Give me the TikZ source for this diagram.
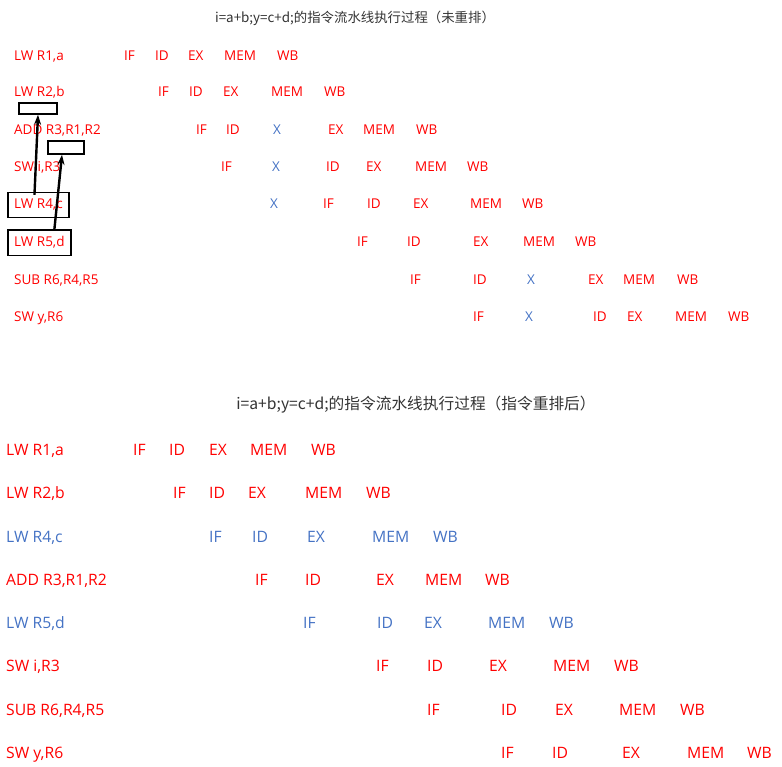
\documentclass[tikz,border=0pt]{standalone}
\usepackage{fontspec}
\setmainfont{Open Sans}
\newfontfamily\cjk{Noto Sans CJK SC}
\usetikzlibrary{arrows.meta,positioning,fit}
\definecolor{StageRed}{HTML}{FF0000}
\definecolor{StallBlue}{HTML}{4472C4}
\definecolor{TitleInk}{HTML}{333333}
\tikzset{
  toptext/.style={anchor=base west,inner sep=0pt,font=\fontsize{13.5}{16}\selectfont},
  bottext/.style={anchor=base west,inner sep=0pt,font=\fontsize{15.7}{18}\selectfont},
  titletext/.style={text=TitleInk,inner sep=0pt},
  holebox/.style={draw=black,line width=1.5pt,inner sep=0pt},
  markbox/.style={draw=black,line width=1.5pt,inner xsep=6pt,inner ysep=6.5pt},
  hazard/.style={-{Stealth[length=10pt,width=7pt]},draw=black,line width=2.4pt}
}
\begin{document}
\begin{tikzpicture}[x=1pt,y=-1pt]
  \path[use as bounding box] (0,0) rectangle (782,767);
  % before reordering
  \node[titletext,font=\cjk\fontsize{13.4}{16}\selectfont] (ttitle) at (355,18) {i=a+b;y=c+d;的指令流水线执行过程（未重排）};
  \node[toptext,text=StageRed] (tlw1) at (14,61) {LW R1,a};
  \node[toptext,text=StageRed] (tlw2) at (14,97) {LW R2,b};
  \node[toptext,text=StageRed] (tadd) at (14,135) {ADD R3,R1,R2};
  \node[toptext,text=StageRed] (tswi) at (14,172) {SW i,R3};
  \node[toptext,text=StageRed] (tlw4) at (14,209) {LW R4,c};
  \node[toptext,text=StageRed] (tlw5) at (14,247) {LW R5,d};
  \node[toptext,text=StageRed] (tsub) at (14,285) {SUB R6,R4,R5};
  \node[toptext,text=StageRed] (tswy) at (14,322) {SW y,R6};
  \foreach \x/\s/\col [count=\k] in {124/IF/StageRed,155/ID/StageRed,188/EX/StageRed,224/MEM/StageRed,277/WB/StageRed}
    \node[toptext,text=\col] (t1s\k) at (\x,61) {\s};
  \foreach \x/\s/\col [count=\k] in {158/IF/StageRed,189/ID/StageRed,223/EX/StageRed,271/MEM/StageRed,324/WB/StageRed}
    \node[toptext,text=\col] (t2s\k) at (\x,97) {\s};
  \foreach \x/\s/\col [count=\k] in {196/IF/StageRed,226/ID/StageRed,273/X/StallBlue,328/EX/StageRed,363/MEM/StageRed,416/WB/StageRed}
    \node[toptext,text=\col] (t3s\k) at (\x,135) {\s};
  \foreach \x/\s/\col [count=\k] in {221/IF/StageRed,272/X/StallBlue,326/ID/StageRed,366/EX/StageRed,415/MEM/StageRed,467/WB/StageRed}
    \node[toptext,text=\col] (t4s\k) at (\x,172) {\s};
  \foreach \x/\s/\col [count=\k] in {270/X/StallBlue,323/IF/StageRed,367/ID/StageRed,413/EX/StageRed,470/MEM/StageRed,522/WB/StageRed}
    \node[toptext,text=\col] (t5s\k) at (\x,209) {\s};
  \foreach \x/\s/\col [count=\k] in {357/IF/StageRed,407/ID/StageRed,473/EX/StageRed,523/MEM/StageRed,575/WB/StageRed}
    \node[toptext,text=\col] (t6s\k) at (\x,247) {\s};
  \foreach \x/\s/\col [count=\k] in {410/IF/StageRed,473/ID/StageRed,527/X/StallBlue,588/EX/StageRed,623/MEM/StageRed,677/WB/StageRed}
    \node[toptext,text=\col] (t7s\k) at (\x,285) {\s};
  \foreach \x/\s/\col [count=\k] in {473/IF/StageRed,525/X/StallBlue,593/ID/StageRed,627/EX/StageRed,675/MEM/StageRed,728/WB/StageRed}
    \node[toptext,text=\col] (t8s\k) at (\x,322) {\s};
  % hazard marks
  \node[holebox,minimum width=38pt,minimum height=11pt] (hole1) at (38,108.5) {};
  \node[holebox,minimum width=36pt,minimum height=13pt] (hole2) at (66,147.5) {};
  \node[markbox,fit=(tlw4)] (mk4) {};
  \node[markbox,fit=(tlw5)] (mk5) {};
  \draw[hazard] ([xshift=-4pt,yshift=-3pt]mk4.north) -- (hole1.south);
  \draw[hazard] ([xshift=15pt]mk5.north) -- ([xshift=-4pt]hole2.south);
  % after reordering
  \node[titletext,font=\cjk\fontsize{15.7}{18}\selectfont] (btitle) at (416,405) {i=a+b;y=c+d;的指令流水线执行过程（指令重排后）};
  \node[bottext,text=StageRed] (blw1) at (6,455) {LW R1,a};
  \node[bottext,text=StageRed] (blw2) at (6,498) {LW R2,b};
  \node[bottext,text=StallBlue] (blw4) at (6,542) {LW R4,c};
  \node[bottext,text=StageRed] (badd) at (6,585) {ADD R3,R1,R2};
  \node[bottext,text=StallBlue] (blw5) at (6,628) {LW R5,d};
  \node[bottext,text=StageRed] (bswi) at (6,671) {SW i,R3};
  \node[bottext,text=StageRed] (bsub) at (6,715) {SUB R6,R4,R5};
  \node[bottext,text=StageRed] (bswy) at (6,758) {SW y,R6};
  \foreach \x/\s [count=\k] in {133/IF,169/ID,209/EX,250/MEM,311/WB}
    \node[bottext,text=StageRed] (b1s\k) at (\x,455) {\s};
  \foreach \x/\s [count=\k] in {173/IF,209/ID,248/EX,305/MEM,366/WB}
    \node[bottext,text=StageRed] (b2s\k) at (\x,498) {\s};
  \foreach \x/\s [count=\k] in {209/IF,252/ID,307/EX,372/MEM,433/WB}
    \node[bottext,text=StallBlue] (b3s\k) at (\x,542) {\s};
  \foreach \x/\s [count=\k] in {255/IF,305/ID,376/EX,425/MEM,485/WB}
    \node[bottext,text=StageRed] (b4s\k) at (\x,585) {\s};
  \foreach \x/\s [count=\k] in {303/IF,377/ID,424/EX,488/MEM,549/WB}
    \node[bottext,text=StallBlue] (b5s\k) at (\x,628) {\s};
  \foreach \x/\s [count=\k] in {376/IF,427/ID,489/EX,553/MEM,614/WB}
    \node[bottext,text=StageRed] (b6s\k) at (\x,671) {\s};
  \foreach \x/\s [count=\k] in {427/IF,501/ID,555/EX,619/MEM,680/WB}
    \node[bottext,text=StageRed] (b7s\k) at (\x,715) {\s};
  \foreach \x/\s [count=\k] in {501/IF,552/ID,622/EX,687/MEM,747/WB}
    \node[bottext,text=StageRed] (b8s\k) at (\x,758) {\s};
\end{tikzpicture}
\end{document}
